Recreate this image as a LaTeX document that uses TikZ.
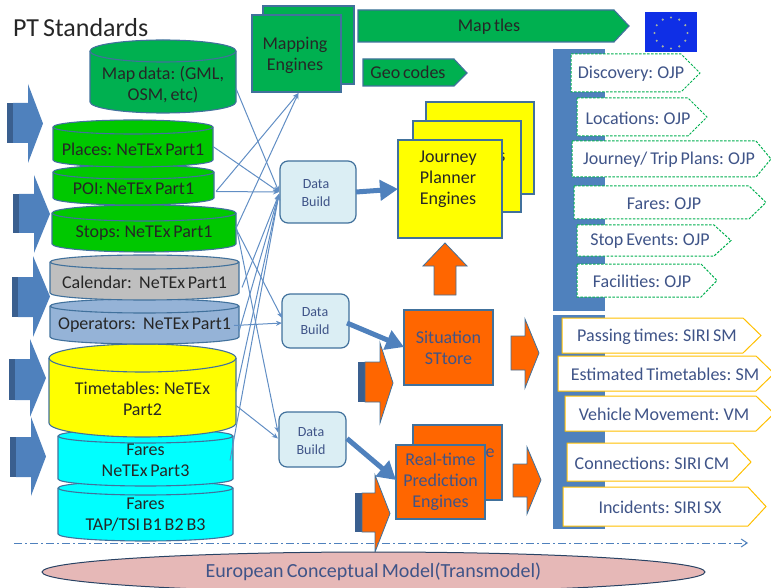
\documentclass[tikz,border=0pt]{standalone}
\usepackage{fontspec}
\setmainfont[WordSpace=0.7]{Carlito}
\usetikzlibrary{arrows.meta,calc,shapes.geometric}
\definecolor{edgeblue}{HTML}{41719C}
\definecolor{barblue}{HTML}{4F81BD}
\definecolor{darkblue}{HTML}{3A5F8F}
\definecolor{mapgreen}{HTML}{00B050}
\definecolor{brightgreen}{HTML}{00C800}
\definecolor{opblue}{HTML}{95B3D7}
\definecolor{dbfill}{HTML}{DBEEF4}
\definecolor{orangef}{HTML}{FF6600}
\definecolor{txtblue}{HTML}{3F5488}
\definecolor{gold}{HTML}{FFC000}
\definecolor{pinkf}{HTML}{E6B8B7}
\definecolor{flagblue}{HTML}{0F2FE6}
\definecolor{purecyan}{HTML}{00FFFF}
\definecolor{pureyellow}{HTML}{FFFF00}
\definecolor{calgray}{HTML}{BFBFBF}
\definecolor{stardot}{HTML}{A8B4A0}
\tikzset{
  x=1pt,y=-1pt,
  every node/.style={font=\fontsize{18}{21}\selectfont,align=center,inner sep=0pt,outer sep=0pt,text=black!85},
  outl/.style={draw=edgeblue,line width=1.1pt},
  sheet/.style={outl,rectangle,anchor=north west},
  link/.style={draw=barblue!90!white,line width=1pt,-{Stealth[length=6pt,width=5pt]}},
  thick link/.style={draw=barblue,line width=5pt,-{Triangle[length=18pt,width=20pt]},shorten >=0pt},
  dbnode/.style={outl,fill=dbfill,rounded corners=8pt,text=txtblue,font=\fontsize{14}{18}\selectfont,line width=1.2pt},
  ojp/.style={draw=mapgreen,dashed,dash pattern=on 2.5pt off 1.5pt,line width=1pt,fill=white},
  siri/.style={draw=gold,line width=1pt,fill=white},
  ptext/.style={text=txtblue},
}
% name, x1, y1, x2, y2, ry, fill, textcentre-y, text
\newcommand\cyl[9]{%
  \pgfmathsetmacro\xc{(#2+#4)/2}\pgfmathsetmacro\rx{(#4-#2)/2}
  \pgfmathsetmacro\ka{.55*\rx}\pgfmathsetmacro\kb{.55*#6}
  \path[outl,fill=#7,line join=round]
    (#2,#3+#6) -- (#2,#5-#6)
    .. controls (#2,#5-#6+\kb) and (\xc-\ka,#5) .. (\xc,#5)
    .. controls (\xc+\ka,#5) and (#4,#5-#6+\kb) .. (#4,#5-#6)
    -- (#4,#3+#6)
    .. controls (#4,#3+#6-\kb) and (\xc+\ka,#3) .. (\xc,#3)
    .. controls (\xc-\ka,#3) and (#2,#3+#6-\kb) .. (#2,#3+#6) -- cycle;
  \draw[outl] (#2,#3+#6)
    .. controls (#2,#3+#6+\kb) and (\xc-\ka,#3+2*#6) .. (\xc,#3+2*#6)
    .. controls (\xc+\ka,#3+2*#6) and (#4,#3+#6+\kb) .. (#4,#3+#6);
  \node[minimum width=#4 pt-#2 pt] (#1) at (\xc,#8+1.5) {#9};
}
% x0 (stripe), x1 (body left), shoulder, tip, head top, head bottom, body top, body bottom, fill
\newcommand\blockarrow[9]{%
  \pgfmathsetmacro\ym{(#5+#6)/2}
  \fill[darkblue] (#1,#7) rectangle (#2,#8);
  \path[#9] (#2,#7) -- (#3,#7) -- (#3,#5) -- (#4,\ym) -- (#3,#6) -- (#3,#8) -- (#2,#8) -- cycle;
}
% name, x1, y1, shoulder, tip, y2, style, text-x, text
\newcommand\pent[9]{%
  \pgfmathsetmacro\ym{(#3+#6)/2}
  \path[#7] (#2,#3) -- (#4,#3) -- (#5,\ym) -- (#4,#6) -- (#2,#6) -- cycle;
  \node[ptext] (#1) at (#8,\ym+1) {#9};
}
\begin{document}
\begin{tikzpicture}
\useasboundingbox (0,0) rectangle (771,588);
\clip (0,0) rectangle (771,588);
% bars
\fill[barblue] (553,49) rectangle (605,311);
\fill[barblue] (553,315) rectangle (605,529);
% title
\node[font=\fontsize{26}{28}\selectfont,anchor=west] (title) at (13,28) {PT Standards};
% left arrows
\tikzset{bluea/.style={fill=barblue}, orangea/.style={fill=orangef,draw=edgeblue,line width=.8pt}}
\blockarrow{7}{13}{28}{43}{84}{163}{103}{143}{bluea}
\blockarrow{13}{19}{34}{50}{175}{253}{194}{233}{bluea}
\blockarrow{12}{18}{33}{50}{256}{337}{277}{317}{bluea}
\blockarrow{9}{15}{30}{46}{339}{417}{359}{400}{bluea}
\blockarrow{10}{16}{31}{46}{417}{496}{437}{477}{bluea}
% cylinders, lowest first
\cyl{faresb}{58}{481}{233}{541}{7}{purecyan}{513}{Fares\\TAP/TSI B1 B2 B3}
\cyl{faresa}{58}{429}{233}{486}{7}{purecyan}{459}{Fares\\NeTEx Part3}
\cyl{timet}{49}{344}{236}{437}{14}{pureyellow}{397}{Timetables: NeTEx\\Part2}
\cyl{oper}{50}{299}{239}{344}{7}{opblue}{324}{Operators:\, NeTEx Part1}
\cyl{cal}{50}{255}{239}{300}{7}{calgray}{281}{Calendar:\, NeTEx Part1}
\cyl{stops}{52}{205}{236}{252}{8}{brightgreen}{232}{Stops: NeTEx Part1}
\cyl{poi}{53}{165}{214}{205}{7}{brightgreen}{187}{POI: NeTEx Part1}
\cyl{places}{53}{120}{213}{167}{7}{brightgreen}{148}{Places: NeTEx Part1}
\cyl{mapd}{90}{40}{236}{113}{11}{mapgreen}{83}{Map data: (GML,\\OSM, etc)}
% mapping engines
\draw[sheet,fill=mapgreen] (263,6) rectangle (354,84);
\node[sheet,fill=mapgreen,minimum width=89pt,minimum height=77pt] (mapping) at (252,15) {};
\node at (295,55) (mappingtxt) {Mapping\\Engines};
% map tiles, geo codes
\path[outl,fill=mapgreen] (358,10) -- (614,10) -- (629,26) -- (614,42) -- (358,42) -- cycle;
\node (tiles) at (489,26.5) {Map tles};
\path[outl,fill=mapgreen] (363,59) -- (454,59) -- (467,73) -- (454,86) -- (363,86) -- cycle;
\node (geo) at (408,72) {Geo codes};
% flag
\fill[flagblue] (645,12) rectangle (697,52);
\foreach \a in {0,30,...,330}
  \fill[stardot] ({671+16.5*cos(\a)},{33+15.5*sin(\a)}) circle (1.2);
% journey planner
\draw[sheet,fill=pureyellow] (426,102) rectangle (534,194);
\draw[sheet,fill=pureyellow] (413,121) rectangle (521,212);
\node (jphidden) at (502,157) {s};
\node[sheet,fill=pureyellow,minimum width=104pt,minimum height=98pt] (jp) at (398,140) {};
\node at (448,179) (jptxt) {Journey\\Planner\\Engines};
% data build
\node[dbnode,minimum width=76pt,minimum height=62pt] (dba) at (318,192) {};
\node[text=txtblue,font=\fontsize{14}{18}\selectfont] (dbatxt) at (316,193.5) {Data\\Build};
\node[dbnode,minimum width=67pt,minimum height=54pt] (dbb) at (315.5,321) {};
\node[text=txtblue,font=\fontsize{14}{18}\selectfont] (dbbtxt) at (315,321) {Data\\Build};
\node[dbnode,minimum width=67pt,minimum height=55pt] (dbc) at (312.5,439.5) {};
\node[text=txtblue,font=\fontsize{14}{18}\selectfont] (dbctxt) at (311,441) {Data\\Build};
% thin connectors
\draw[link] ([yshift=-4pt]mapd.east) -- ([xshift=-1pt]dba.west);
\draw[link] ([yshift=3pt]places.east) -- ([xshift=-1pt]dba.west);
\draw[link] ([xshift=2pt,yshift=-3pt]poi.east) -- ([xshift=-1pt]dba.west);
\draw[link] ([xshift=2pt,yshift=-3pt]poi.east) -- ($(mapping.south)+(2,1)$);
\draw[link] ([yshift=5pt]stops.east) -- ($(mapping.south)+(2,1)$);
\draw[link] ([xshift=3pt,yshift=-5pt]cal.east) -- ([xshift=-1pt,yshift=-2pt]dba.west);
\draw[link] ([yshift=-6pt]oper.east) -- ([xshift=-1pt,yshift=-2pt]dba.west);
\draw[link] ([yshift=7pt]timet.east) -- ([xshift=-1pt,yshift=-2pt]dba.west);
\draw[link] ([xshift=-3pt]faresa.east) -- ([xshift=-1pt,yshift=-2pt]dba.west);
\draw[link] ([yshift=5pt]stops.east) -- ($(dbb.west)+(0,-3)$);
\draw[link] ([yshift=8pt]stops.east) -- ($(dbc.west)+(-1,-7)$);
\draw[link] ([xshift=-5pt]oper.east) -- ($(dbb.west)+(0,2)$);
\draw[link] ([yshift=-7pt]timet.east) -- ($(dbc.west)+(-1,-1)$);
% situation and prediction
\node[sheet,fill=orangef,minimum width=89pt,minimum height=75pt,text=txtblue] (situ) at (404,310) {Situation\\STtore};
\draw[sheet,fill=orangef] (413,425) rectangle (502,500);
\node[text=txtblue] (rthidden) at (490,453) {e};
\node[sheet,fill=orangef,minimum width=89pt,minimum height=74pt,text=txtblue] (rt) at (396,445) {Real-time\\Prediction\\Engines};
% orange arrows
\path[orangea] (434,295) -- (434,266) -- (423,266) -- (445,243) -- (467,266) -- (456,266) -- (456,295) -- cycle;
\blockarrow{358}{365}{380}{393}{343}{423}{362}{402}{orangea}
\blockarrow{355}{362}{375}{390}{475}{552}{493}{532}{orangea}
\path[orangea] (511,336) -- (525,336) -- (525,319) -- (539,353) -- (525,388) -- (525,370) -- (511,370) -- cycle;
\path[orangea] (513,464) -- (527,464) -- (527,447) -- (541,480) -- (527,514) -- (527,497) -- (513,497) -- cycle;
% thick connectors
\draw[thick link] (dba.east) -- (jp.west |- 0,189);
\draw[thick link] ($(dbb.east)+(-2,2)$) -- (situ.west |- 0,347);
\draw[thick link] ($(dbc.east)+(1,-1)$) -- (rt.west |- 0,480);
% OJP
\pent{discov}{571}{54}{681}{700}{92}{ojp}{631}{Discovery: OJP}
\pent{locat}{577}{98}{688}{707}{136}{ojp}{638}{Locations: OJP}
\pent{journ}{572}{141}{756}{771}{177}{ojp}{669}{Journey/ Trip Plans: OJP}
\pent{fares}{574}{186}{749}{766}{219}{ojp}{664}{Fares: OJP}
\pent{stopev}{577}{225}{714}{731}{256}{ojp}{650}{Stop Events: OJP}
\pent{facil}{577}{264}{701}{717}{297}{ojp}{642}{Facilities: OJP}
% SIRI
\pent{passing}{562}{318}{743}{761}{353}{siri}{657}{Passing times: SIRI SM}
\pent{estim}{558}{356}{756}{774}{391}{siri}{665}{Estimated Timetables: SM}
\pent{vehic}{565}{396}{756}{774}{431}{siri}{664}{Vehicle Movement: VM}
\pent{conn}{567}{443}{733}{751}{481}{siri}{652}{Connections: SIRI CM}
\pent{incid}{563}{487}{748}{766}{526}{siri}{660}{Incidents: SIRI SX}
% time line
\coordinate (linestart) at (14,543);
\coordinate (lineend) at (748,543);
\draw[barblue,line width=1pt,dash pattern=on 8pt off 3pt on 2pt off 3pt,-{Straight Barb[length=6pt,width=8pt]}] (linestart) -- (lineend);
% model
\node[draw=darkblue!70!black,line width=1pt,fill=pinkf,ellipse,minimum width=663pt,minimum height=40pt,text=txtblue,font=\fontsize{20}{22}\selectfont] (model) at (373.5,572) {European Conceptual Model(Transmodel)};
\end{tikzpicture}
\end{document}
